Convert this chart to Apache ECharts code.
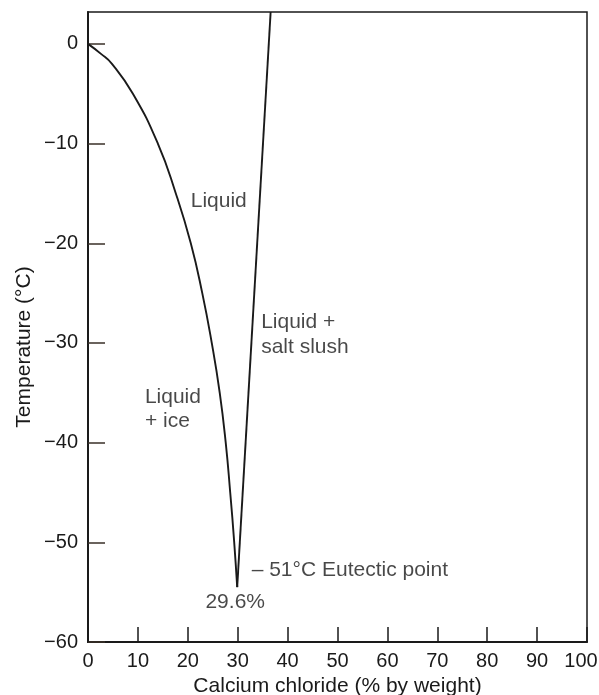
<!DOCTYPE html>
<html>
<head>
<meta charset="utf-8">
<script src="https://cdn.jsdelivr.net/npm/echarts@6/dist/echarts.min.js"></script>
<style>
  html, body { margin: 0; padding: 0; background: #ffffff; }
  #chart { width: 599px; height: 695px; }
</style>
</head>
<body>
<div id="chart"></div>
<script>
// ---- Data ----
const xTicks = [0, 10, 20, 30, 40, 50, 60, 70, 80, 90, 100];
const yTicks = [-60, -50, -40, -30, -20, -10, 0];

// Freezing (ice) curve: % CaCl2 vs temperature (°C)
const iceCurveX = [0, 2.6, 4.8, 9.0, 14.0, 17.6, 20.6, 22.9, 24.8, 26.4, 27.6, 28.5, 29.3, 29.9];
const iceCurveY = [0, -1, -2, -5, -10, -15, -20, -25, -30, -35, -40, -45, -50, -54.5];

// Salt solubility line
const saltLineX = [29.9, 36.6];
const saltLineY = [-54.5, 3.2];

// Region annotations
const noteTexts = ['Liquid', 'Liquid +', 'salt slush', 'Liquid', '+ ice', '– 51°C Eutectic point', '29.6%'];
const noteX = [26.2, 34.7, 34.7, 11.4, 11.4, 32.8, 29.5];
const noteY = [-15.8, -27.9, -30.4, -35.4, -37.9, -52.8, -56.0];
const noteAlign = ['center', 'left', 'left', 'left', 'left', 'left', 'center'];

const xName = 'Calcium chloride (% by weight)';
const yName = 'Temperature (°C)';

// ---- Chart ----
const FONT = '"Liberation Sans", Arial, Helvetica, sans-serif';
const INK = '#1a1a1a';
const chart = echarts.init(document.getElementById('chart'), null, { renderer: 'canvas' });

const toPairs = (xs, ys) => xs.map((x, i) => [x, ys[i]]);

chart.setOption({
  animation: false,
  backgroundColor: '#ffffff',
  textStyle: { fontFamily: FONT, color: INK },
  grid: {
    left: 88, right: 12, top: 12, bottom: 53,
    containLabel: false, outerBoundsMode: 'none',
    show: true, borderColor: INK, borderWidth: 1.5, backgroundColor: 'transparent'
  },
  xAxis: {
    type: 'value', min: 0, max: 100, interval: 10,
    name: xName, nameLocation: 'middle', nameGap: 31,
    nameTextStyle: { fontFamily: FONT, fontSize: 21, color: INK },
    splitLine: { show: false },
    axisLine: { show: true, onZero: false, lineStyle: { color: INK, width: 2 } },
    axisTick: { show: true, inside: true, length: 15, customValues: xTicks, lineStyle: { color: INK, width: 1.5 } },
    axisLabel: {
      fontFamily: FONT, fontSize: 20, color: INK, margin: 9, customValues: xTicks,
      formatter: v => v === 100 ? '{r|100}' : String(v),
      rich: { r: { fontFamily: FONT, fontSize: 20, color: INK, padding: [0, 12, 0, 0] } }
    }
  },
  yAxis: {
    type: 'value', min: -60, max: 3.2, interval: 10,
    splitLine: { show: false },
    axisLine: { show: true, onZero: false, lineStyle: { color: INK, width: 2 } },
    axisTick: { show: true, inside: true, length: 17, customValues: yTicks, lineStyle: { color: '#3a3028', width: 1.5 } },
    axisLabel: {
      fontFamily: FONT, fontSize: 20, color: INK, margin: 10, customValues: yTicks,
      formatter: v => String(v).replace('-', '−')
    }
  },
  graphic: [{
    type: 'text', x: 24, y: 347, rotation: Math.PI / 2,
    style: { text: yName, fontFamily: FONT, fontSize: 21, fill: INK, textAlign: 'center', textVerticalAlign: 'middle' }
  }],
  series: [
    {
      type: 'line', data: toPairs(iceCurveX, iceCurveY), smooth: 0.5,
      showSymbol: false, symbol: 'none',
      lineStyle: { color: INK, width: 1.9 }
    },
    {
      type: 'line', data: toPairs(saltLineX, saltLineY),
      showSymbol: false, symbol: 'none',
      lineStyle: { color: INK, width: 1.9 }
    },
    {
      type: 'scatter', symbolSize: 0, silent: true,
      data: noteTexts.map((t, i) => ({
        value: [noteX[i], noteY[i]],
        label: {
          show: true, position: 'inside', formatter: t, align: noteAlign[i],
          verticalAlign: 'middle', fontFamily: FONT, fontSize: 21, color: INK
        }
      }))
    }
  ]
});
</script>
</body>
</html>
